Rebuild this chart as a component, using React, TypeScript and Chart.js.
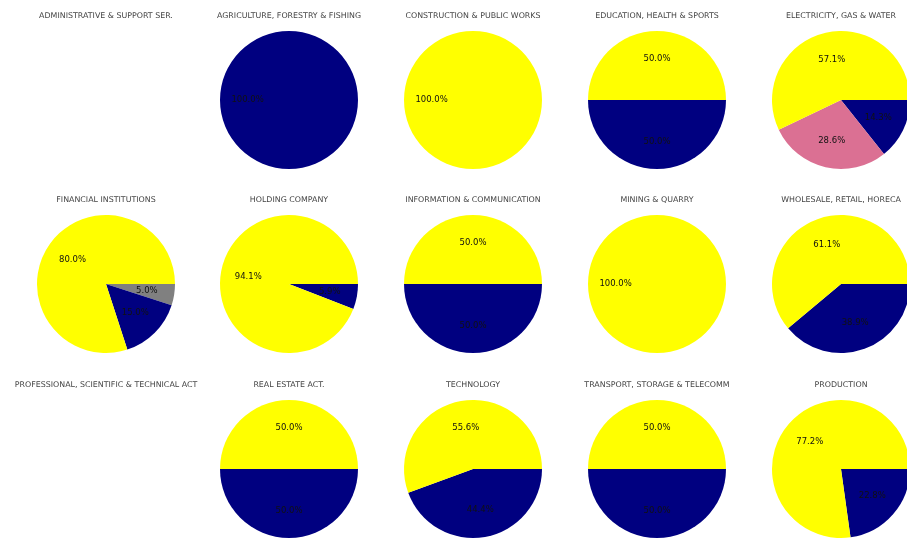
import React, { useEffect, useRef } from "react";
import { Chart, registerables } from "chart.js";

Chart.register(...registerables);

// Sector names (one pie per sector), in grid order (row by row)
const sectors = [
  "ADMINISTRATIVE & SUPPORT SER.",
  "AGRICULTURE, FORESTRY & FISHING",
  "CONSTRUCTION & PUBLIC WORKS",
  "EDUCATION, HEALTH & SPORTS",
  "ELECTRICITY, GAS & WATER",
  "FINANCIAL INSTITUTIONS",
  "HOLDING COMPANY",
  "INFORMATION & COMMUNICATION",
  "MINING & QUARRY",
  "WHOLESALE, RETAIL, HORECA",
  "PROFESSIONAL, SCIENTIFIC & TECHNICAL ACT",
  "REAL ESTATE ACT.",
  "TECHNOLOGY",
  "TRANSPORT, STORAGE & TELECOMM",
  "PRODUCTION",
];

// Slice names (in drawing order, counter-clockwise from 3 o'clock)
const sliceNames = ["Yellow", "Pink", "Navy", "Grey"];
const sliceColors = ["#FFFF00", "#DB7093", "#000080", "#808080"];

// Shares (%) per sector, per slice
const yellowShare = [0, 0, 100, 50, 57.1, 80, 94.1, 50, 100, 61.1, 0, 50, 55.6, 50, 77.2];
const pinkShare = [0, 0, 0, 0, 28.6, 0, 0, 0, 0, 0, 0, 0, 0, 0, 0];
const navyShare = [0, 100, 0, 50, 14.3, 15, 5.9, 50, 0, 38.9, 0, 50, 44.4, 50, 22.8];
const greyShare = [0, 0, 0, 0, 0, 5, 0, 0, 0, 0, 0, 0, 0, 0, 0];

const COLS = 5;
const CELL = 184;
const COL_X0 = 105.5;
const COL_DX = 183.8;
const ROW_Y0 = 100;
const ROW_DY = 184.3;
const RADIUS = 69;
const TITLE_OFFSET = 84;

const pctLabels = {
  id: "pctLabels",
  afterDatasetsDraw(chart: any) {
    const ctx = chart.ctx;
    const meta = chart.getDatasetMeta(0);
    const data = chart.data.datasets[0].data as number[];
    const total = data.reduce((a, b) => a + b, 0);
    if (!total) return;
    ctx.save();
    ctx.font = "8.5px 'DejaVu Sans'";
    ctx.fillStyle = "#111";
    ctx.textAlign = "center";
    ctx.textBaseline = "middle";
    meta.data.forEach((arc: any, i: number) => {
      const v = data[i];
      if (!v) return;
      const p = arc.getProps(["x", "y", "startAngle", "endAngle", "outerRadius"], true);
      const mid = (p.startAngle + p.endAngle) / 2;
      const x = p.x + Math.cos(mid) * p.outerRadius * 0.6;
      const y = p.y + Math.sin(mid) * p.outerRadius * 0.6;
      ctx.fillText(((v / total) * 100).toFixed(1) + "%", x, y);
    });
    ctx.restore();
  },
};

const sectorTitle = {
  id: "sectorTitle",
  afterDraw(chart: any, _args: any, opts: any) {
    const ctx = chart.ctx;
    ctx.save();
    ctx.font = "7.9px 'DejaVu Sans'";
    ctx.fillStyle = "#454545";
    ctx.textAlign = "center";
    ctx.textBaseline = "middle";
    ctx.fillText(opts.text, chart.width / 2, CELL / 2 - TITLE_OFFSET);
    ctx.restore();
  },
};

function PieCell({ index }: { index: number }) {
  const ref = useRef<HTMLCanvasElement>(null);
  useEffect(() => {
    if (!ref.current) return;
    const values = [yellowShare[index], pinkShare[index], navyShare[index], greyShare[index]];
    // Chart.js draws clockwise; reverse to emulate counter-clockwise from 3 o'clock
    const data = values.slice().reverse();
    const colors = sliceColors.slice().reverse();
    const labels = sliceNames.slice().reverse();
    const pad = CELL / 2 - RADIUS;
    const chart = new Chart(ref.current, {
      type: "pie",
      data: {
        labels,
        datasets: [
          {
            data,
            backgroundColor: colors,
            borderWidth: 0,
          },
        ],
      },
      options: {
        responsive: false,
        animation: false,
        rotation: 90,
        layout: { padding: { left: pad, right: pad, top: pad, bottom: pad } },
        plugins: {
          legend: { display: false },
          tooltip: { enabled: false },
          sectorTitle: { text: sectors[index] },
        } as any,
      },
      plugins: [pctLabels, sectorTitle],
    });
    return () => chart.destroy();
  }, [index]);
  const col = index % COLS;
  const row = Math.floor(index / COLS);
  const cx = COL_X0 + col * COL_DX;
  const cy = ROW_Y0 + row * ROW_DY;
  return (
    <div
      style={{
        position: "absolute",
        left: Math.round(cx - CELL / 2),
        top: Math.round(cy - CELL / 2),
        width: CELL,
        height: CELL,
      }}
    >
      <canvas ref={ref} width={CELL} height={CELL} style={{ width: CELL, height: CELL }} />
    </div>
  );
}

export default function App() {
  return (
    <div
      style={{
        position: "absolute",
        left: 0,
        top: 0,
        width: 907,
        height: 539,
        overflow: "hidden",
        background: "#fff",
      }}
    >
      {sectors.map((_, i) => (
        <PieCell key={i} index={i} />
      ))}
    </div>
  );
}
